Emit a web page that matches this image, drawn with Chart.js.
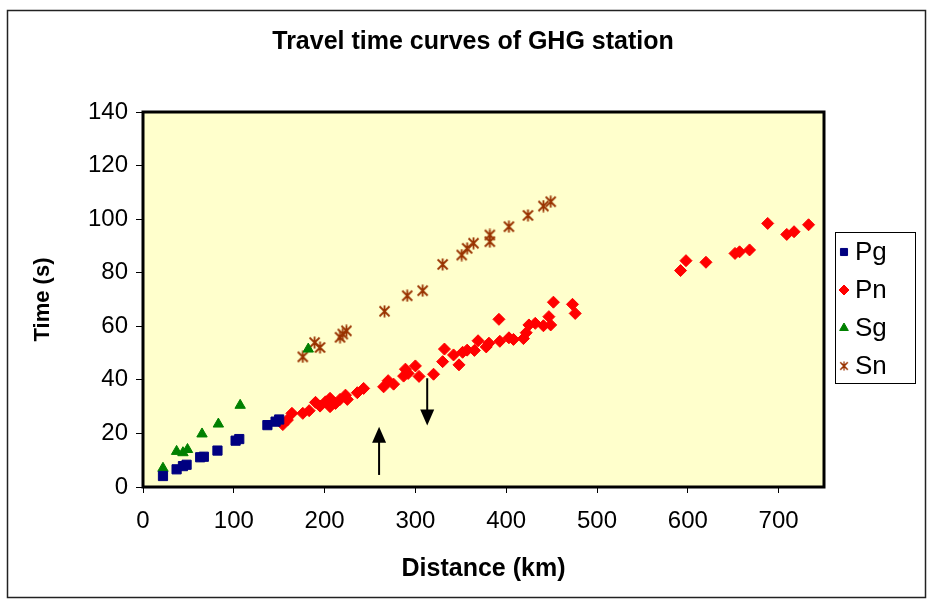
<!DOCTYPE html>
<html>
<head>
<meta charset="utf-8">
<script src="https://cdn.jsdelivr.net/npm/chart.js@4.4.0/dist/chart.umd.min.js"></script>
<style>
  html, body { margin: 0; padding: 0; background: #fff; }
  canvas { display: block; }
</style>
</head>
<body>
<canvas id="myChart" width="929" height="601"></canvas>
<script>
// Pg - direct crustal P wave [distance km, time s]
const pgData = [[22, 4.1], [37, 6.6], [44, 7.8], [48, 8.3], [63, 11.1], [67, 11.3], [82, 13.6],
  [102, 17.3], [106, 17.9], [137, 23.1], [146, 24.4], [150, 25.2]];

// Pn - head wave
const pnData = [[154, 23.3], [159, 25], [164, 27.5], [176, 27.5], [183, 28.5], [190, 31.6], [195, 30.2],
  [201, 31.8], [206, 33.1], [206, 30], [212, 31.2], [217, 32.7], [223, 34.3], [225, 32.7], [236, 35.2],
  [243, 36.8], [265, 37.4], [270, 39.7], [276, 38.4], [287, 41.4], [289, 44], [292, 42.4], [300, 45.2],
  [304, 41.3], [320, 42.1], [330, 46.8], [332, 51.5], [342, 49.3], [348, 45.6], [352, 50.3], [357, 51.1],
  [365, 51], [369, 54.6], [378, 52.3], [381, 53.7], [392, 62.6], [393, 54.4], [403, 55.7], [408, 55.1],
  [419, 55.4], [422, 57.6], [425, 60.5], [432, 61.1], [441, 60.2], [447, 63.6], [449, 60.5], [452, 69],
  [473, 68.2], [476, 64.8], [592, 80.8], [598, 84.5], [620, 83.9], [652, 87.2], [657, 87.8], [668, 88.5],
  [688, 98.4], [709, 94.3], [717, 95.3], [733, 97.9]];

// Sg
const sgData = [[22, 7], [37, 13.3], [44, 12.8], [49, 14], [65, 19.8], [83, 23.5], [107, 30.5], [182, 51.5]];

// Sn
const snData = [[176, 48.6], [189, 53.9], [195, 52.1], [217, 55.9], [220, 57.1], [224, 58.3], [266, 65.6],
  [291, 71.4], [308, 73.3], [330, 83.1], [351, 86.6], [357, 89.1], [364, 91], [382, 91.6], [382, 94.1],
  [403, 97.2], [424, 101.4], [441, 104.9], [449, 106.5]];

const seriesNames = ['Pg', 'Pn', 'Sg', 'Sn'];
const xTicks = [0, 100, 200, 300, 400, 500, 600, 700];
const yTicks = [0, 20, 40, 60, 80, 100, 120, 140];
const chartTitle = 'Travel time curves of GHG station';

// arrows [x, yFrom, yTo] in data units
const arrows = [[260, 4.5, 22.5], [313, 40.6, 23]];

const toPoints = arr => arr.map(p => ({ x: p[0], y: p[1] }));

// asterisk marker for Sn
function makeAsterisk(color) {
    const c = document.createElement('canvas');
    c.width = 13; c.height = 13;
    const g = c.getContext('2d');
    g.strokeStyle = color;
    g.lineWidth = 1.8;
    g.beginPath();
    g.moveTo(6.5, 0.5); g.lineTo(6.5, 12.5);
    g.moveTo(1.5, 1.5); g.lineTo(11.5, 11.5);
    g.moveTo(11.5, 1.5); g.lineTo(1.5, 11.5);
    g.stroke();
    return c;
}
const asterisk = makeAsterisk('#993300');

const FONT = "'Liberation Sans', Arial, sans-serif";

const decorPlugin = {
    id: 'decor',
    beforeDraw(chart) {
        const { ctx, chartArea: a } = chart;
        ctx.save();
        ctx.fillStyle = '#fff';
        ctx.fillRect(0, 0, chart.width, chart.height);
        ctx.fillStyle = '#FFFFCC';
        ctx.fillRect(a.left, a.top, a.right - a.left, a.bottom - a.top);
        // outer frame
        ctx.strokeStyle = '#222';
        ctx.lineWidth = 1.5;
        ctx.strokeRect(7.5, 10.5, 918, 587);
        // title
        ctx.fillStyle = '#000';
        ctx.font = 'bold 25px ' + FONT;
        ctx.textAlign = 'center';
        ctx.textBaseline = 'middle';
        ctx.fillText(chartTitle, 473, 42);
        ctx.restore();
    },
    afterDraw(chart) {
        const { ctx, chartArea: a, scales } = chart;
        ctx.save();
        ctx.strokeStyle = '#000';
        ctx.lineWidth = 3;
        ctx.strokeRect(a.left, a.top, a.right - a.left, a.bottom - a.top);

        // arrows
        arrows.forEach(([xv, y0, y1]) => {
            const x = scales.x.getPixelForValue(xv);
            const p0 = scales.y.getPixelForValue(y0);
            const p1 = scales.y.getPixelForValue(y1);
            const dir = p1 < p0 ? 1 : -1;
            ctx.strokeStyle = '#000';
            ctx.lineWidth = 2;
            ctx.beginPath();
            ctx.moveTo(x, p0);
            ctx.lineTo(x, p1 + dir * 14);
            ctx.stroke();
            ctx.fillStyle = '#000';
            ctx.beginPath();
            ctx.moveTo(x, p1);
            ctx.lineTo(x - 7, p1 + dir * 16);
            ctx.lineTo(x + 7, p1 + dir * 16);
            ctx.closePath();
            ctx.fill();
        });

        // legend box
        const lx = 835, ly = 232, lw = 80, lh = 151;
        ctx.lineWidth = 1;
        ctx.strokeStyle = '#000';
        ctx.strokeRect(lx + 0.5, ly + 0.5, lw, lh);
        ctx.font = '26px ' + FONT;
        ctx.textBaseline = 'middle';
        ctx.textAlign = 'left';
        chart.data.datasets.forEach((ds, i) => {
            const cy = ly + 20 + i * 38;
            const cx = lx + 9;
            const style = ds.pointStyle;
            if (typeof style === 'string') {
                ctx.fillStyle = ds.backgroundColor;
                ctx.strokeStyle = ds.borderColor;
                ctx.lineWidth = 1;
                Chart.helpers.drawPoint(ctx, { pointStyle: style, radius: 5, borderWidth: 1, rotation: 0 }, cx, cy);
            } else {
                ctx.drawImage(style, cx - 5, cy - 5, 10, 10);
            }
            ctx.fillStyle = '#000';
            ctx.fillText(ds.label, lx + 20, cy + 1);
        });
        ctx.restore();
    }
};

const ctx = document.getElementById('myChart').getContext('2d');
new Chart(ctx, {
    type: 'scatter',
    data: {
        datasets: [
            { label: seriesNames[0], data: toPoints(pgData), pointStyle: 'rect', pointRadius: 6.5,
              backgroundColor: '#000080', borderColor: '#000080', borderWidth: 1 },
            { label: seriesNames[1], data: toPoints(pnData), pointStyle: 'rectRot', pointRadius: 6,
              backgroundColor: '#FF0000', borderColor: '#FF0000', borderWidth: 1 },
            { label: seriesNames[2], data: toPoints(sgData), pointStyle: 'triangle', pointRadius: 6,
              backgroundColor: '#008000', borderColor: '#008000', borderWidth: 1 },
            { label: seriesNames[3], data: toPoints(snData), pointStyle: asterisk, pointRadius: 6,
              backgroundColor: '#993300', borderColor: '#993300' }
        ]
    },
    options: {
        responsive: false,
        animation: false,
        devicePixelRatio: 1,
        layout: { padding: { left: 0, right: 105, top: 112, bottom: 0 } },
        plugins: {
            legend: { display: false },
            tooltip: { enabled: false },
            title: { display: false }
        },
        scales: {
            x: {
                type: 'linear', min: 0, max: 750,
                afterFit: s => { s.height = 114; },
                afterBuildTicks: s => { s.ticks = xTicks.map(v => ({ value: v })); },
                ticks: { color: '#000', font: { family: FONT, size: 24 }, padding: 14, maxRotation: 0 },
                grid: { drawOnChartArea: false, drawTicks: true, tickLength: 6, color: '#000', lineWidth: 1 },
                border: { display: false },
                title: { display: true, text: 'Distance (km)', color: '#000',
                         font: { family: FONT, size: 25, weight: 'bold' }, padding: { top: 0, bottom: 17 } }
            },
            y: {
                type: 'linear', min: 0, max: 140,
                afterFit: s => { s.width = 143; },
                afterBuildTicks: s => { s.ticks = yTicks.map(v => ({ value: v })); },
                ticks: { color: '#000', font: { family: FONT, size: 24 }, padding: 8 },
                grid: { drawOnChartArea: false, drawTicks: true, tickLength: 7, color: '#000', lineWidth: 1 },
                border: { display: false },
                title: { display: true, text: 'Time (s)', color: '#000',
                         font: { family: FONT, size: 22, weight: 'bold' }, padding: { top: 30, bottom: 0 } }
            }
        }
    },
    plugins: [decorPlugin]
});
</script>
</body>
</html>
